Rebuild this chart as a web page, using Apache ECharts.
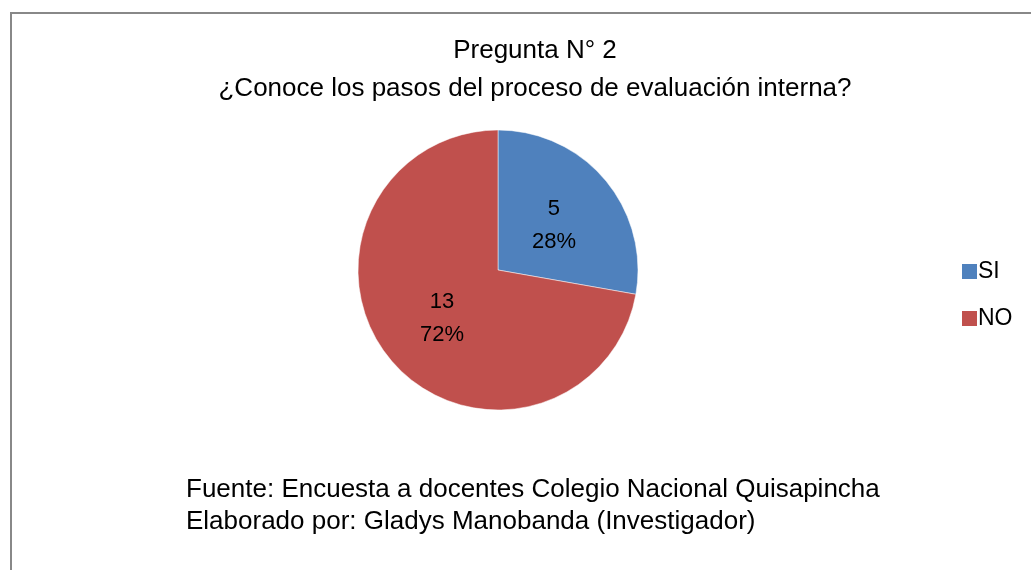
<!DOCTYPE html>
<html>
<head>
<meta charset="utf-8">
<script src="https://cdn.jsdelivr.net/npm/echarts@6/dist/echarts.min.js"></script>
<style>
    body { margin: 0; background: #fff; }
    #echarts { width: 1031px; height: 570px; }
</style>
</head>
<body>
<div id="echarts"></div>
<script>
// datos del gráfico
var categorias = ['SI', 'NO'];
var valores = [5, 13];
var colores = ['#4F81BD', '#C0504D'];
var titulo = 'Pregunta N° 2\n¿Conoce los pasos del proceso de evaluación interna?';
var fuente = 'Fuente: Encuesta a docentes Colegio Nacional Quisapincha\nElaborado por: Gladys Manobanda (Investigador)';

window.onload = function () {
    var fontName = 'Liberation Sans';
    var datos = categorias.map(function (c, i) {
        return { name: c, value: valores[i] };
    });
    var option = {
        backgroundColor: '#fff',
        color: colores,
        animation: false,
        title: {
            text: titulo,
            left: 535,
            top: 32,
            padding: 0,
            textAlign: 'center',
            textStyle: {
                color: '#000',
                fontFamily: fontName,
                fontWeight: 'normal',
                fontSize: 26,
                lineHeight: 38
            }
        },
        legend: {
            orient: 'vertical',
            left: 960,
            top: 260,
            padding: 0,
            itemWidth: 17,
            itemHeight: 17,
            itemGap: 24,
            icon: 'rect',
            data: categorias,
            textStyle: {
                color: '#000',
                fontFamily: fontName,
                fontSize: 23,
                padding: [0, 0, 0, -5]
            }
        },
        graphic: [
            {   // marco
                type: 'rect',
                shape: { x: 11, y: 13, width: 1040, height: 600 },
                style: { fill: 'none', stroke: '#888', lineWidth: 2 },
                silent: true
            },
            {   // fuente
                type: 'text',
                left: 186,
                top: 474,
                style: {
                    text: fuente,
                    fill: '#000',
                    font: '26px "Liberation Sans"',
                    lineHeight: 32
                }
            }
        ],
        series: [{
            name: 'Pregunta 2',
            type: 'pie',
            center: [498, 270],
            radius: 140,
            startAngle: 90,
            percentPrecision: 0,
            data: datos,
            itemStyle: { borderColor: '#fff', borderWidth: 0.5 },
            label: {
                position: 'inside',
                formatter: '{c}\n{d}%',
                color: '#000',
                fontFamily: fontName,
                fontSize: 22,
                lineHeight: 33,
                offset: [0, 2]
            },
            labelLine: { show: false }
        }]
    };
    var myChart = echarts.init(document.getElementById('echarts'));
    myChart.setOption(option);
};
</script>
</body>
</html>
